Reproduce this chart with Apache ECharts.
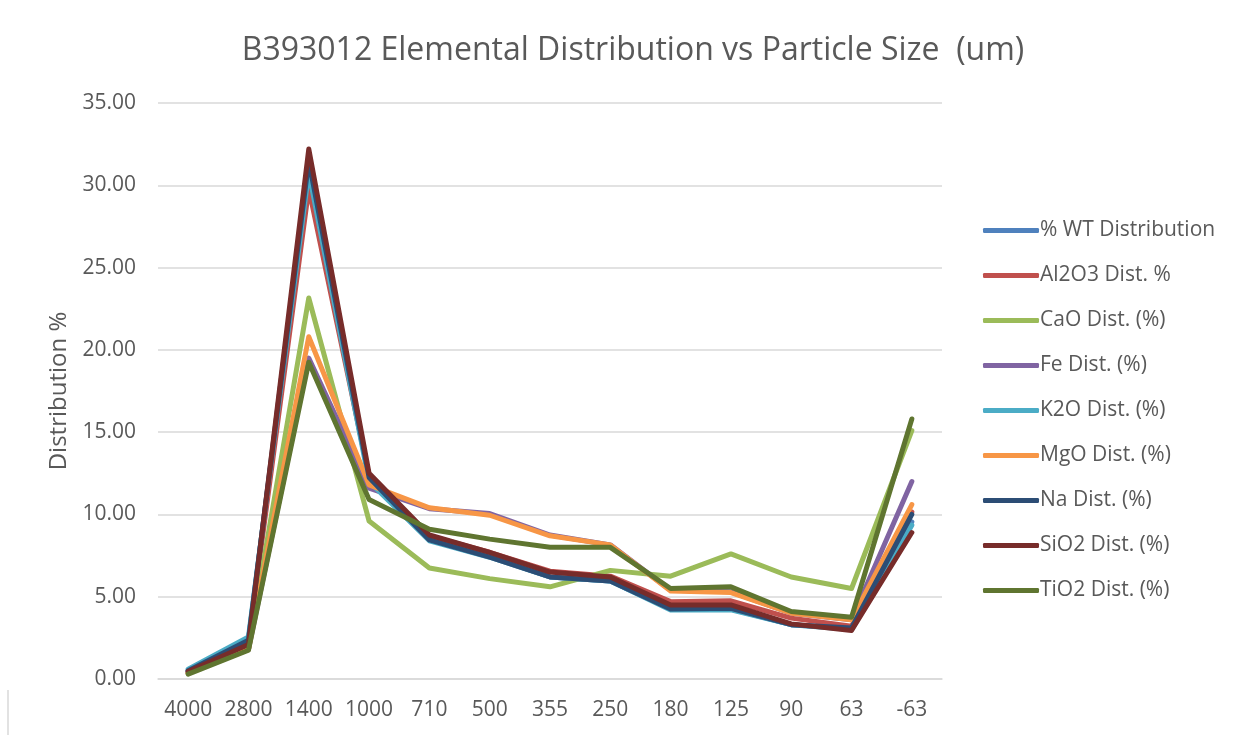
<!DOCTYPE html>
<html>
<head>
<meta charset="utf-8">
<script src="https://cdn.jsdelivr.net/npm/echarts@6/dist/echarts.min.js"></script>
<style>html,body{margin:0;padding:0;background:#fff;}#c{width:1239px;height:735px;}</style>
</head>
<body>
<div id="c"></div>
<script>
const categories = ['4000','2800','1400','1000','710','500','355','250','180','125','90','63','-63'];
const yTicks = [0, 5, 10, 15, 20, 25, 30, 35];
const wtDist   = [0.5, 2.4, 31.0, 12.2, 8.45, 7.45, 6.2, 5.95, 4.25, 4.25, 3.3, 3.05, 9.55];
const al2o3    = [0.4, 2.2, 29.8, 12.3, 8.7, 7.7, 6.55, 6.25, 4.7, 4.75, 3.7, 3.2, 10.15];
const cao      = [0.35, 1.8, 23.15, 9.6, 6.75, 6.1, 5.6, 6.6, 6.25, 7.6, 6.2, 5.5, 15.1];
const fe       = [0.4, 1.8, 19.5, 11.6, 10.35, 10.05, 8.75, 8.15, 5.4, 5.3, 4.0, 3.6, 12.0];
const k2o      = [0.6, 2.55, 30.8, 12.0, 8.4, 7.4, 6.2, 5.95, 4.2, 4.2, 3.3, 3.0, 9.35];
const mgo      = [0.35, 1.8, 20.8, 11.8, 10.4, 9.95, 8.7, 8.15, 5.35, 5.25, 4.0, 3.6, 10.6];
const na       = [0.5, 2.35, 31.5, 12.25, 8.45, 7.4, 6.2, 5.95, 4.25, 4.3, 3.3, 3.1, 10.0];
const sio2     = [0.45, 2.1, 32.2, 12.5, 8.75, 7.7, 6.5, 6.2, 4.5, 4.5, 3.35, 2.95, 8.9];
const tio2     = [0.3, 1.75, 19.25, 10.9, 9.1, 8.5, 8.0, 8.0, 5.5, 5.6, 4.1, 3.75, 15.8];

const seriesNames = ['% WT Distribution','Al2O3 Dist. %','CaO Dist. (%)','Fe Dist. (%)','K2O Dist. (%)','MgO Dist. (%)','Na Dist. (%)','SiO2 Dist. (%)','TiO2 Dist. (%)'];
const seriesData = [wtDist, al2o3, cao, fe, k2o, mgo, na, sio2, tio2];
const colors = ['#4F81BD','#C0504D','#9BBB59','#8064A2','#4BACC6','#F79646','#2C4D75','#772C2A','#5F7530'];

const txt = '#595959';
const font = 'Open Sans';
const chart = echarts.init(document.getElementById('c'));
chart.setOption({
  animation: false,
  color: colors,
  title: {
    text: 'B393012 Elemental Distribution vs Particle Size  (um)',
    left: 628, top: 30, textAlign: 'center',
    textStyle: { color: txt, fontSize: 32, fontWeight: 'normal', fontFamily: font }
  },
  legend: {
    orient: 'vertical',
    left: 978, top: 215,
    itemWidth: 56, itemHeight: 5, itemGap: 24,
    icon: 'roundRect',
    data: seriesNames,
    textStyle: { color: txt, fontSize: 21, fontFamily: font, padding: [0,0,0,-4] }
  },
  grid: { left: 158, right: 297, top: 103, bottom: 56, containLabel: false },
  xAxis: {
    type: 'category',
    data: categories,
    boundaryGap: true,
    axisLine: { lineStyle: { color: '#d9d9d9', width: 1.5 } },
    axisTick: { show: false },
    axisLabel: { color: txt, fontSize: 21, fontFamily: font, margin: 21, interval: 0 }
  },
  yAxis: {
    type: 'value',
    min: yTicks[0], max: yTicks[yTicks.length-1], interval: 5,
    name: 'Distribution %',
    nameLocation: 'middle', nameGap: 86, nameRotate: 90,
    nameTextStyle: { color: txt, fontSize: 24, fontFamily: font },
    axisLine: { show: false },
    axisTick: { show: false },
    splitLine: { lineStyle: { color: '#d9d9d9', width: 1.5 } },
    axisLabel: { color: txt, fontSize: 21, fontFamily: font, margin: 22, formatter: v => v.toFixed(2) }
  },
  series: seriesNames.map((n, i) => ({
    name: n, type: 'line', data: seriesData[i],
    showSymbol: false, symbol: 'none',
    lineStyle: { width: 5, cap: 'round', join: 'round' },
    itemStyle: { color: colors[i] }
  })),
  graphic: [
    { type: 'line', shape: { x1: 8, y1: 690, x2: 8, y2: 735 }, style: { stroke: '#d9d9d9', lineWidth: 1.5 } }
  ]
});
</script>
</body>
</html>
